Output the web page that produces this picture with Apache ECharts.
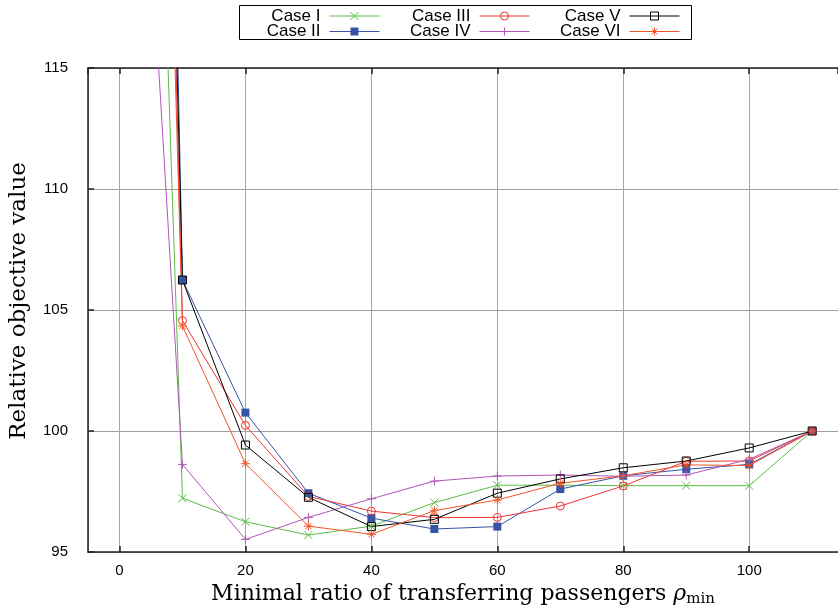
<!DOCTYPE html>
<html>
<head>
<meta charset="utf-8">
<script src="https://cdn.jsdelivr.net/npm/echarts@6/dist/echarts.min.js"></script>
<style>html,body{margin:0;padding:0;background:#fff;}#c{width:838px;height:612px;}</style>
</head>
<body>
<div id="c"></div>
<script>
// x positions (ratio rho_min); the first point lies far above the visible range
const xValues = [0, 10, 20, 30, 40, 50, 60, 70, 80, 90, 100, 110];
const caseI   = [175, 97.22, 96.25, 95.70, 96.07, 97.04, 97.76, 97.76, 97.74, 97.74, 97.74, 100];
const caseII  = [231, 106.24, 100.76, 97.43, 96.40, 95.95, 96.05, 97.60, 98.15, 98.42, 98.62, 100];
const caseIII = [207, 104.56, 100.23, 97.30, 96.69, 96.42, 96.43, 96.90, 97.73, 98.75, 98.76, 100];
const caseIV  = [142, 98.62, 95.52, 96.43, 97.20, 97.93, 98.14, 98.18, 98.13, 98.18, 98.83, 100];
const caseV   = [208, 106.24, 99.42, 97.26, 96.05, 96.35, 97.43, 98.02, 98.48, 98.76, 99.30, 100];
const caseVI  = [195, 104.34, 98.65, 96.07, 95.73, 96.71, 97.15, 97.84, 98.15, 98.60, 98.57, 100];
const seriesNames = ['Case I', 'Case II', 'Case III', 'Case IV', 'Case V', 'Case VI'];
const yTicks = [95, 100, 105, 110, 115];

const SYM = {
  cross: 'path://M0,0L10,10M10,0L0,10',
  plus: 'path://M5,0L5,10M0,5L10,5',
  star: 'path://M5,0L5,10M0,5L10,5M1.5,1.5L8.5,8.5M8.5,1.5L1.5,8.5'
};
const styles = [
  {c: '#5bbd45', sym: SYM.cross, fill: false, size: 8},
  {c: '#3653a6', sym: 'rect', fill: true, size: 8},
  {c: '#ee3434', sym: 'circle', fill: false, size: 8},
  {c: '#b057b8', sym: SYM.plus, fill: false, size: 9},
  {c: '#000000', sym: 'rect', fill: false, size: 8},
  {c: '#f2552a', sym: SYM.star, fill: false, size: 9}
];
const allData = [caseI, caseII, caseIII, caseIV, caseV, caseVI];

const series = allData.map((arr, i) => {
  const s = styles[i];
  return {
    name: seriesNames[i],
    type: 'line',
    xAxisIndex: 0,
    yAxisIndex: 0,
    data: xValues.map((x, j) => [x, arr[j]]),
    symbol: s.sym,
    symbolSize: s.size,
    showAllSymbol: true,
    clip: true,
    lineStyle: {color: s.c, width: 1},
    itemStyle: {
      color: s.fill ? s.c : 'rgba(255,255,255,0)',
      borderColor: s.c,
      borderWidth: s.fill ? 0 : 1
    },
    emphasis: {disabled: true},
    animation: false
  };
});

// legend layout: columns (I,II), (III,IV), (V,VI)
const colRight = [458, 308, 158];
const rowTop = [7.5, 23];
const legends = seriesNames.map((n, i) => ({
  data: [n],
  right: colRight[Math.floor(i / 2)],
  top: rowTop[i % 2],
  align: 'right',
  orient: 'horizontal',
  padding: 0,
  itemWidth: 50,
  itemHeight: 10,
  selectedMode: false,
  lineStyle: {width: 1},
  itemStyle: {borderWidth: styles[i].fill ? 0 : 1},
  textStyle: {fontFamily: 'Liberation Sans', fontSize: 17, color: '#000', padding: [0, 4, 0, 0]}
}));

const chart = echarts.init(document.getElementById('c'), null, {renderer: 'canvas'});
chart.setOption({
  animation: false,
  backgroundColor: '#fff',
  legend: legends,
  graphic: [{
    type: 'rect',
    shape: {x: 239.5, y: 5.5, width: 452, height: 34},
    style: {fill: 'none', stroke: '#000', lineWidth: 1},
    silent: true
  }],
  grid: {left: 86, right: 0, top: 68, bottom: 60, containLabel: false},
  xAxis: [{
    type: 'value',
    min: -5, max: 114.1,
    splitNumber: 6,
    position: 'bottom',
    axisLine: {show: true, onZero: false, lineStyle: {color: '#222', width: 1.5}},
    axisTick: {show: true, inside: true, length: 6, lineStyle: {color: '#222', width: 1.5}},
    axisLabel: {showMinLabel: false, showMaxLabel: false, fontFamily: 'Liberation Sans', fontSize: 15, color: '#000', margin: 11},
    splitLine: {show: true, lineStyle: {color: '#a8a8a8', width: 1}},
    name: '{t|Minimal ratio of transferring passengers }{r|ρ}{s|min}',
    nameLocation: 'middle',
    nameGap: 28,
    nameTextStyle: {
      rich: {
        t: {fontFamily: 'DejaVu Serif', fontSize: 22, color: '#000'},
        r: {fontFamily: 'DejaVu Serif', fontStyle: 'italic', fontSize: 22, color: '#000'},
        s: {fontFamily: 'DejaVu Serif', fontSize: 15, color: '#000', padding: [10, 0, 0, 0]}
      }
    }
  }, {
    type: 'value',
    min: -5, max: 114.1,
    splitNumber: 6,
    position: 'top',
    axisLine: {show: true, onZero: false, lineStyle: {color: '#222', width: 1.5}},
    axisTick: {show: true, inside: true, length: 6, lineStyle: {color: '#222', width: 1.5}},
    axisLabel: {show: false},
    splitLine: {show: false}
  }],
  yAxis: [{
    type: 'value',
    min: yTicks[0], max: yTicks[yTicks.length - 1], interval: 5,
    axisLine: {show: true, onZero: false, lineStyle: {color: '#222', width: 1.5}},
    axisTick: {show: true, inside: true, length: 6, lineStyle: {color: '#222', width: 1.5}},
    axisLabel: {fontFamily: 'Liberation Sans', fontSize: 15, color: '#000', margin: 20},
    splitLine: {show: true, lineStyle: {color: '#a0a0a0', width: 1}},
    name: 'Relative objective value',
    nameLocation: 'middle',
    nameRotate: 90,
    nameGap: 57,
    nameTextStyle: {fontFamily: 'DejaVu Serif', fontSize: 23, color: '#000', padding: [0, 0, 0, 18]}
  }],
  series: series
});
</script>
</body>
</html>
